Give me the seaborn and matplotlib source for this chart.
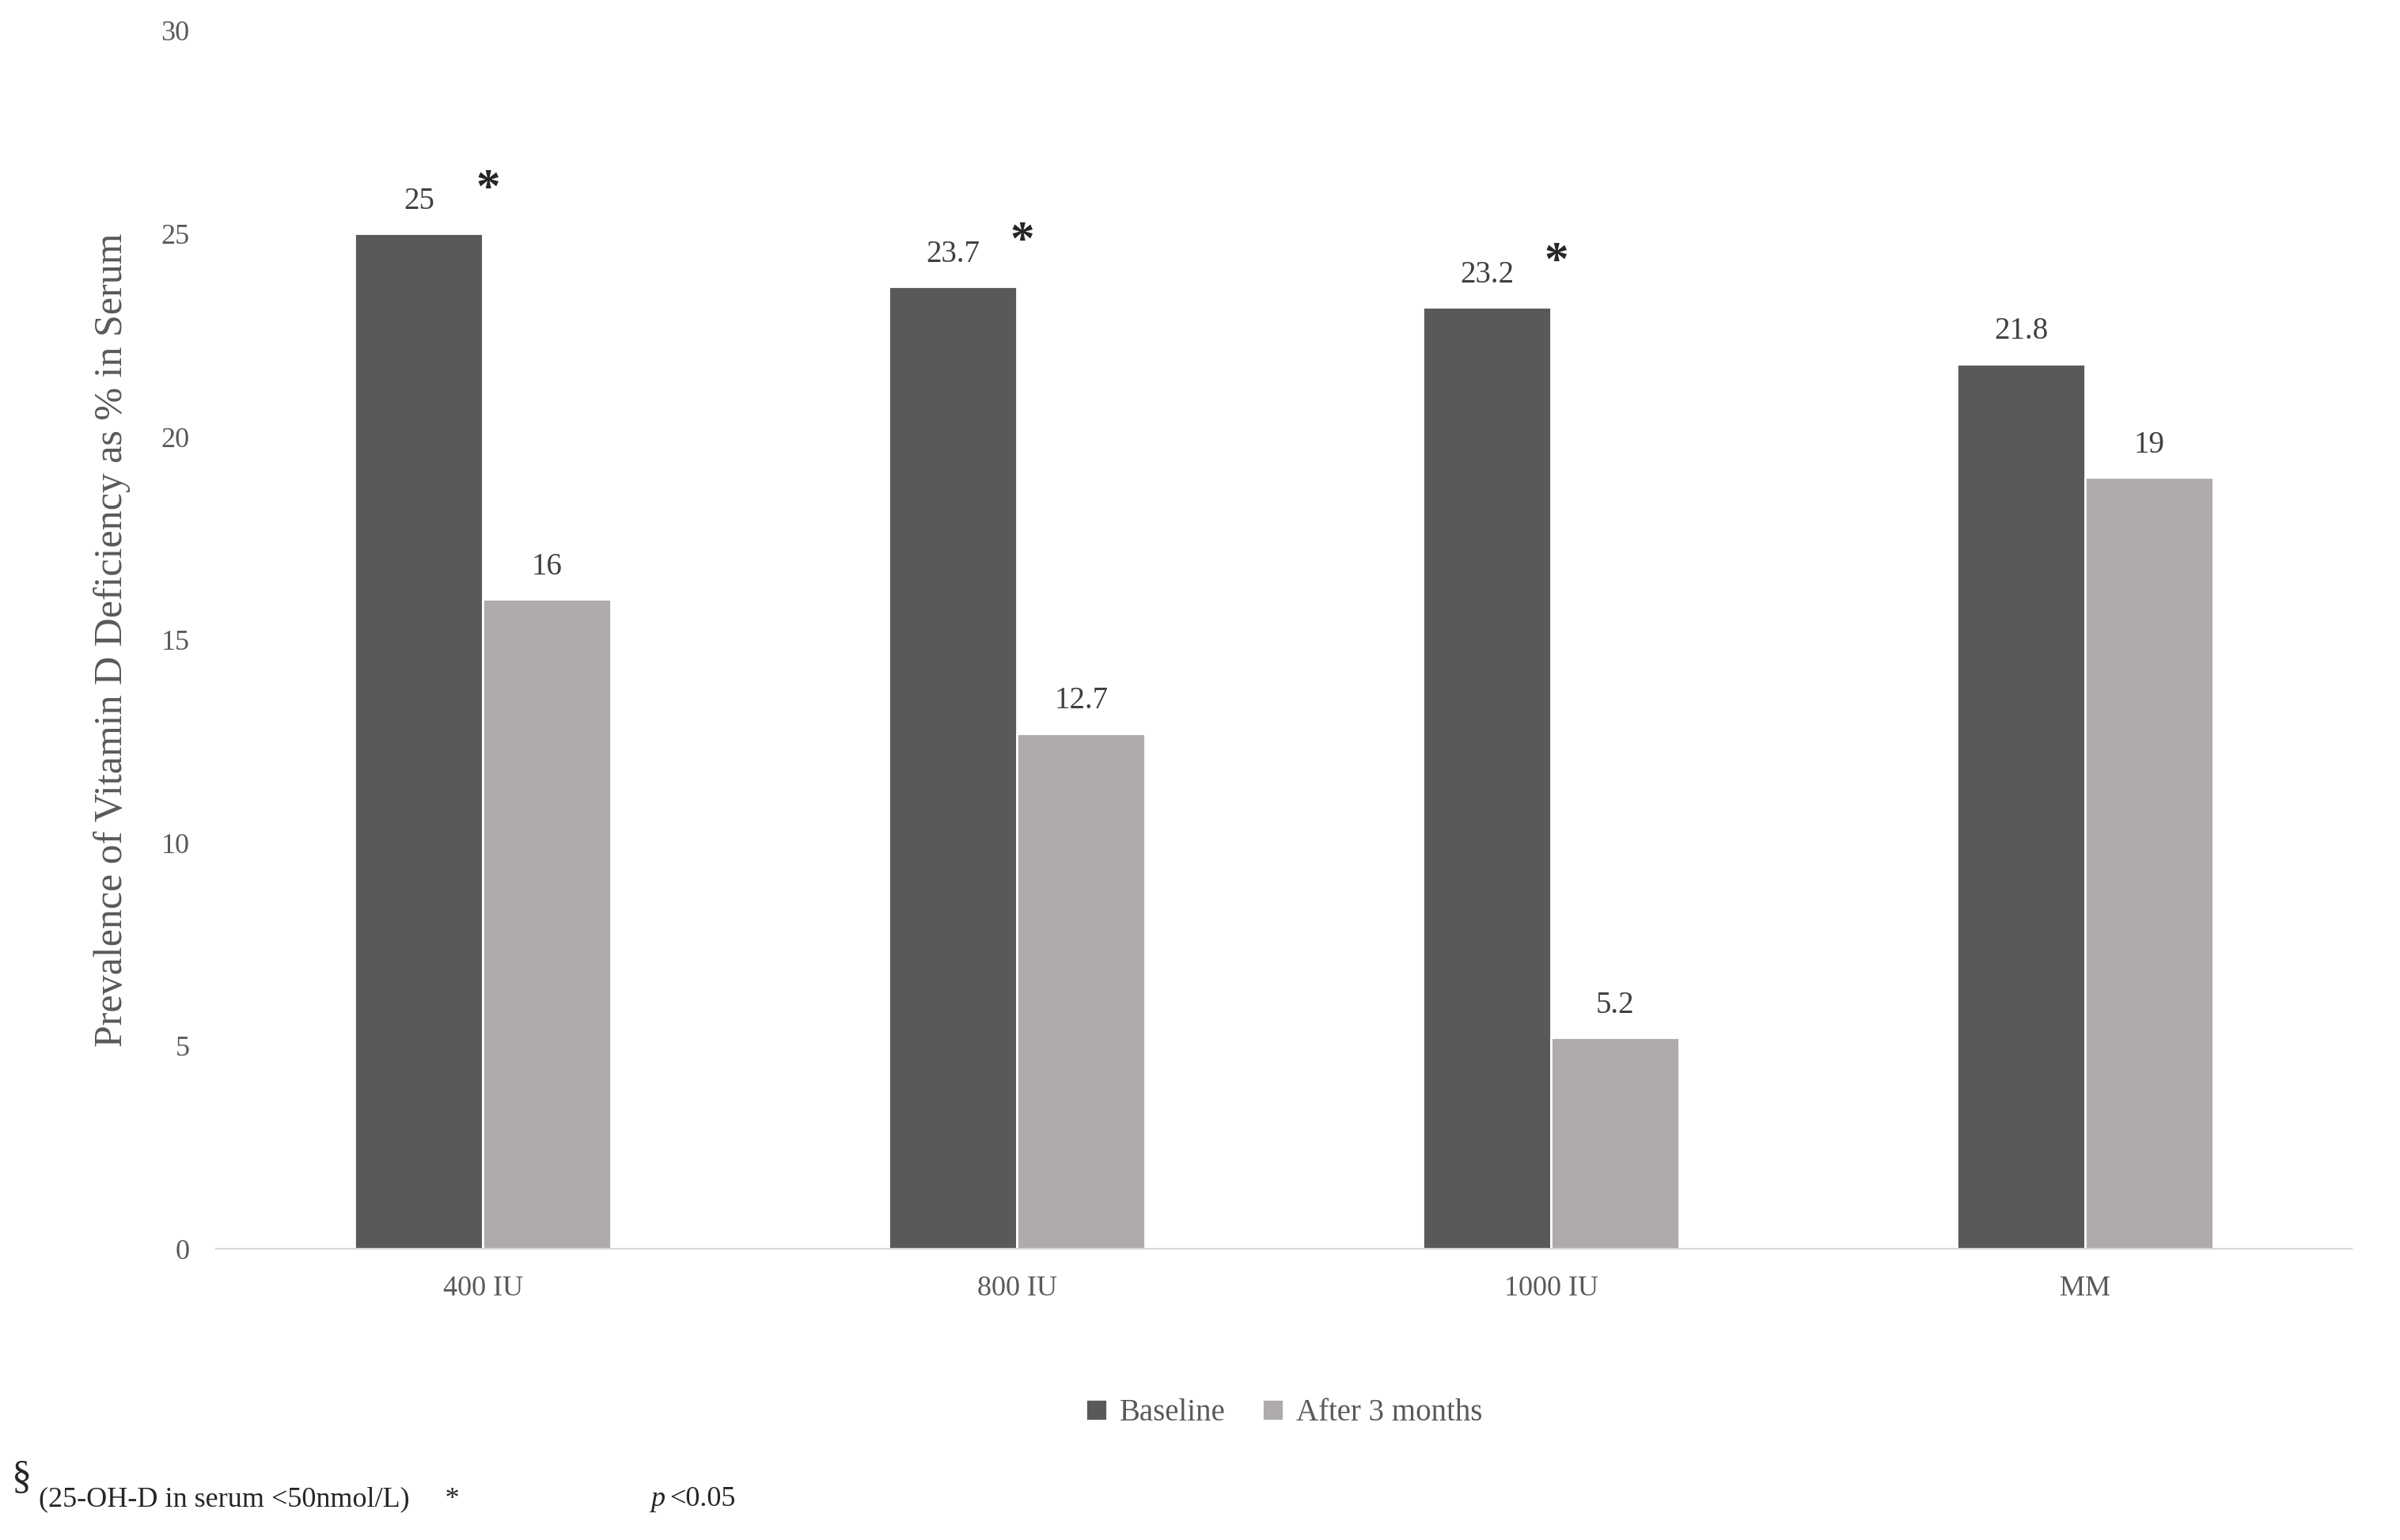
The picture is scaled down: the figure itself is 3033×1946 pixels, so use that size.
import matplotlib
matplotlib.use("Agg")
import matplotlib.pyplot as plt
import seaborn as sns
import pandas as pd

categories = ["400 IU", "800 IU", "1000 IU", "MM"]
baseline = [25, 23.7, 23.2, 21.8]
after = [16, 12.7, 5.2, 19]
sig = [True, True, True, False]
series = ["Baseline", "After 3 months"]

df = pd.DataFrame({
    "cat": categories * 2,
    "val": baseline + after,
    "series": [series[0]] * 4 + [series[1]] * 4,
})

sns.set_style("white")
plt.rcParams['font.family'] = ['Liberation Serif', 'DejaVu Serif']
fig = plt.figure(figsize=(15.165, 9.73), dpi=200)
ax = fig.add_axes([0.09, 0.189, 0.89, 0.791])
sns.barplot(data=df, x="cat", y="val", hue="series", palette=["#595959", "#afabab"],
            width=0.48, saturation=1, ax=ax, legend=True)
ax.set_ylim(0, 30)
ax.set_yticks(range(0, 31, 5))
ax.set_xlim(-0.5, 3.5)
tc = "#595959"
ax.tick_params(axis='both', labelsize=13, colors=tc, length=0, pad=12)
for s in ["top", "right", "left"]:
    ax.spines[s].set_visible(False)
ax.spines["bottom"].set_color("#d9d9d9")
ax.set_xlabel("")
ax.set_ylabel("Prevalence of Vitamin D Deficiency as % in Serum", fontsize=18, color=tc, labelpad=14)

for cont in ax.containers:
    ax.bar_label(cont, labels=[f"{v:g}" for v in cont.datavalues], padding=8, fontsize=14, color="#404040")
for i, (v, s) in enumerate(zip(baseline, sig)):
    if s:
        ax.annotate("*", (i - 0.12, v), xytext=(26, 10), textcoords="offset points",
                    fontsize=22, fontweight="bold", color="#262626", ha="left", va="bottom")

ax.legend(loc="upper center", bbox_to_anchor=(0.5, -0.1), ncol=2, frameon=False,
          fontsize=14, labelcolor=tc, handlelength=0.7, handleheight=0.7, columnspacing=1.2,
          handletextpad=0.4)

fig.text(0.005, 0.028, "§", fontsize=18, color="#262626", va="bottom")
fig.text(0.016, 0.018, "(25-OH-D in serum <50nmol/L)     *", fontsize=13, color="#262626", va="bottom")
fig.text(0.271, 0.018, "p", fontsize=13, style="italic", color="#262626", va="bottom")
fig.text(0.279, 0.018, "<0.05", fontsize=13, color="#262626", va="bottom")
fig.savefig("out.png", dpi=200)
